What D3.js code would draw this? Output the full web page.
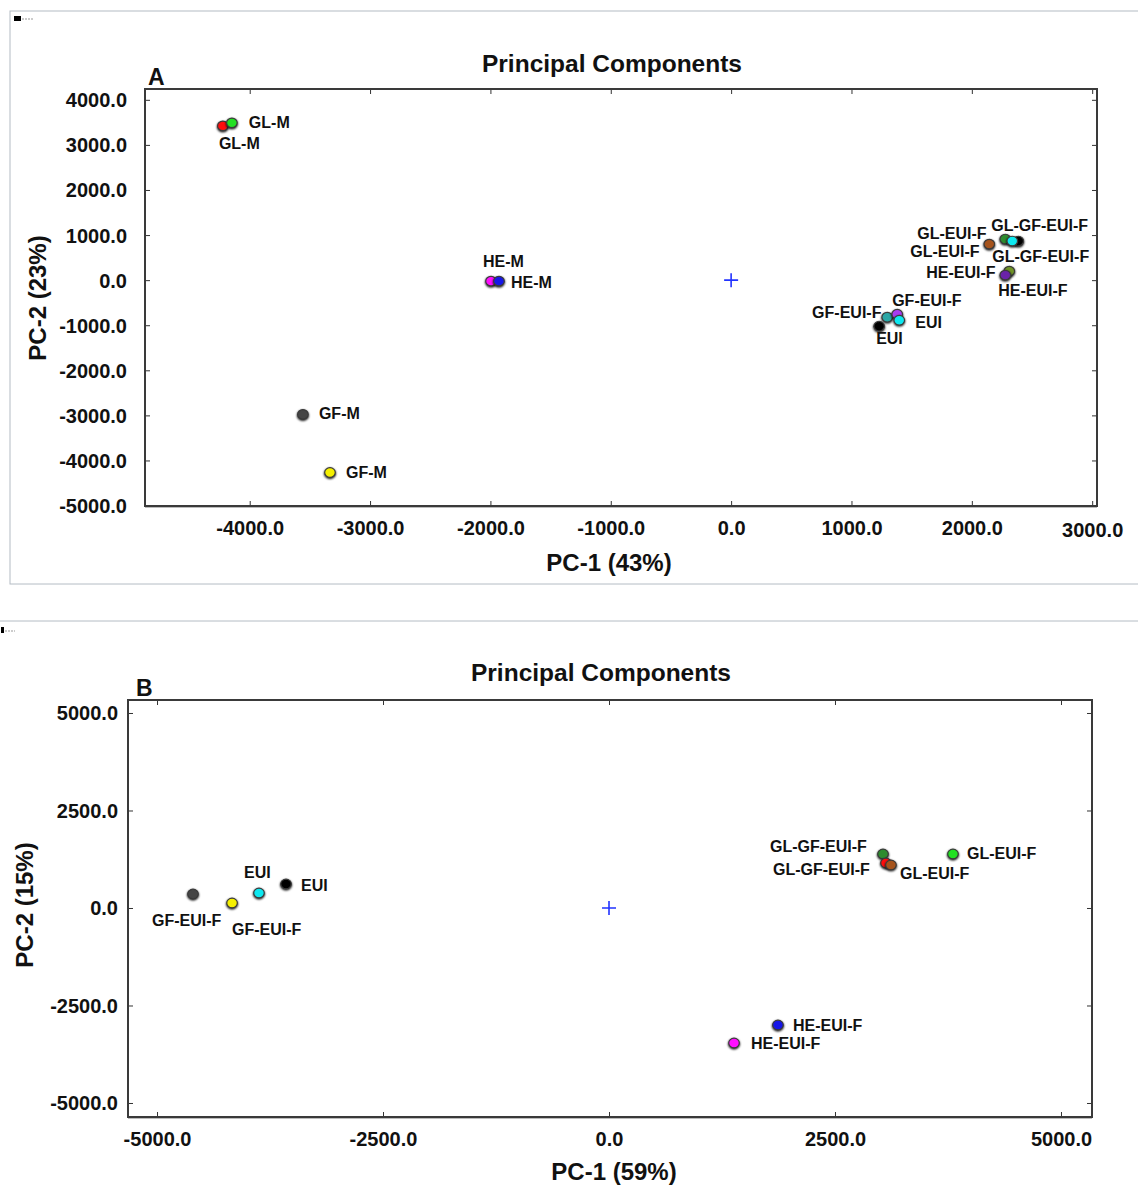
<!DOCTYPE html>
<html>
<head>
<meta charset="utf-8">
<title>Principal Components</title>
<style>
  body { margin: 0; background: #fff; }
  svg { display: block; }
  text { font-family: "Liberation Sans", Arial, sans-serif; font-weight: bold; fill: #111; }
  .tick line { stroke: #333; stroke-width: 1; }
  .domain { stroke: none; }
</style>
</head>
<body>
<div id="chart"></div>
<script src="https://d3js.org/d3.v7.min.js"></script>
<script>
// ---- panel A data ----
var namesA  = ["GL-M", "GL-M", "HE-M", "HE-M", "GF-M", "GF-M",
               "GL-EUI-F", "GL-GF-EUI-F", "GL-GF-EUI-F", "GL-GF-EUI-F", "HE-EUI-F", "HE-EUI-F",
               "GF-EUI-F", "GF-EUI-F", "EUI", "EUI"];
var pc1A    = [-4223, -4148, -1995, -1929, -3558, -3333,
               2145, 2386, 2278, 2336, 2311, 2278,
               1297, 1380, 1397, 1230];
var pc2A    = [3422, 3489, -22, -22, -2978, -4267,
               800, 867, 911, 867, 200, 111,
               -822, -756, -889, -1022];
var colorsA = ["#ff1010", "#22e022", "#ff10ff", "#1818e8", "#444444", "#f5f000",
               "#a5521c", "#050505", "#2e8b2e", "#10e8f0", "#6f9428", "#6a22a8",
               "#2aa6a6", "#a83af0", "#10e8f0", "#050505"];
var labelTextA = ["GL-M", "GL-M", "HE-M", "HE-M", "GF-M", "GF-M",
                  "GL-EUI-F", "GL-GF-EUI-F", "GL-EUI-F", "GL-GF-EUI-F", "HE-EUI-F", "HE-EUI-F",
                  "GF-EUI-F", "GF-EUI-F", "EUI", "EUI"];
var labelX_A = [-4007, -4256, -2062, -1829, -3425, -3200,
                1546, 2161, 1488, 2170, 1621, 2219,
                673, 1338, 1530, 1205];
var labelY_A = [3489, 3044, 422, -44, -2956, -4267,
                1044, 1222, 644, 533, 178, -222,
                -711, -444, -933, -1289];
var xTicksA = [-4000, -3000, -2000, -1000, 0, 1000, 2000, 3000];
var yTicksA = [4000, 3000, 2000, 1000, 0, -1000, -2000, -3000, -4000, -5000];
var xDomainA = [-4870, 3040];
var yDomainA = [-5010, 4240];

// ---- panel B data ----
var namesB  = ["GF-EUI-F", "GF-EUI-F", "EUI", "EUI",
               "GL-GF-EUI-F", "GL-GF-EUI-F", "GL-EUI-F", "GL-EUI-F", "HE-EUI-F", "HE-EUI-F"];
var pc1B    = [-4602, -4170, -3872, -3573, 3031, 3064, 3119, 3805, 1869, 1383];
var pc2B    = [359, 128, 385, 615, 1385, 1154, 1103, 1385, -3000, -3462];
var colorsB = ["#444444", "#f5f000", "#10e8f0", "#050505",
               "#2e8b2e", "#ff1010", "#a5521c", "#22e022", "#1818e8", "#ff10ff"];
var labelTextB = ["EUI", "EUI", "GF-EUI-F", "GF-EUI-F",
                  "GL-GF-EUI-F", "GL-GF-EUI-F", "GL-EUI-F", "GL-EUI-F", "HE-EUI-F", "HE-EUI-F"];
var labelX_B = [-4038, -3407, -5055, -4170, 1781, 1814, 3219, 3960, 2035, 1571];
var labelY_B = [923, 590, -308, -538, 1590, 1000, 897, 1410, -3000, -3462];
var xTicksB = [-5000, -2500, 0, 2500, 5000];
var yTicksB = [5000, 2500, 0, -2500, -5000];
var xDomainB = [-5321, 5343];
var yDomainB = [-5359, 5333];

var svg = d3.select("#chart").append("svg")
    .attr("width", 1138)
    .attr("height", 1186);

// frames
svg.append("rect").attr("x", 10).attr("y", 11).attr("width", 1140).attr("height", 573)
    .attr("fill", "none").attr("stroke", "#b4bcc4").attr("stroke-width", 1);
svg.append("line").attr("x1", 0).attr("x2", 1138).attr("y1", 621).attr("y2", 621)
    .attr("stroke", "#b4bcc4").attr("stroke-width", 1);
svg.append("rect").attr("x", 14).attr("y", 16).attr("width", 7).attr("height", 5).attr("fill", "#000");
svg.append("line").attr("x1", 22).attr("x2", 33).attr("y1", 19).attr("y2", 19)
    .attr("stroke", "#999").attr("stroke-dasharray", "2,1");
svg.append("rect").attr("x", 1).attr("y", 627).attr("width", 3).attr("height", 6).attr("fill", "#000");
svg.append("line").attr("x1", 5).attr("x2", 15).attr("y1", 631).attr("y2", 631)
    .attr("stroke", "#999").attr("stroke-dasharray", "2,1");

var defs = svg.append("defs");
var f = defs.append("filter").attr("id", "shadow").attr("x", "-50%").attr("y", "-50%")
    .attr("width", "200%").attr("height", "200%");
f.append("feGaussianBlur").attr("in", "SourceAlpha").attr("stdDeviation", 1).attr("result", "b");
f.append("feOffset").attr("in", "b").attr("dx", -0.5).attr("dy", 0.5).attr("result", "o");
var fm = f.append("feMerge");
fm.append("feMergeNode").attr("in", "o");
fm.append("feMergeNode").attr("in", "SourceGraphic");

var fmt1 = d3.format(".1f");
function fmt(d) { return fmt1(d).replace("\u2212", "-"); }

function panel(o) {
  var x = d3.scaleLinear().domain(o.xDomain).range([o.left, o.right]);
  var y = d3.scaleLinear().domain(o.yDomain).range([o.bottom, o.top]);
  var g = svg.append("g");

  // axes with inward ticks
  var bx = g.append("g").attr("transform", "translate(0," + o.bottom + ")")
      .call(d3.axisBottom(x).tickValues(o.xTicks).tickSize(-5).tickSizeOuter(0).tickFormat(fmt));
  bx.selectAll("text").attr("y", o.xLabelGap).attr("dy", "0.35em")
      .style("font-size", "20px").style("font-family", null)
      .attr("transform", function(d, i) { return i === o.xTicks.length - 1 ? "translate(0," + o.lastDrop + ")" : null; });
  g.append("g").attr("transform", "translate(0," + o.top + ")")
      .call(d3.axisTop(x).tickValues(o.xTicks).tickSize(-5).tickSizeOuter(0).tickFormat(""));
  var ly = g.append("g").attr("transform", "translate(" + o.left + ",0)")
      .call(d3.axisLeft(y).tickValues(o.yTicks).tickSize(-5).tickSizeOuter(0).tickFormat(fmt));
  ly.selectAll("text").attr("x", -o.yLabelGap).attr("dy", "0.35em")
      .style("font-size", "20px").style("font-family", null);
  g.append("g").attr("transform", "translate(" + o.right + ",0)")
      .call(d3.axisRight(y).tickValues(o.yTicks).tickSize(-5).tickSizeOuter(0).tickFormat(""));
  g.selectAll(".tick text").attr("fill", "#111");

  // plot box
  g.append("rect").attr("x", o.left).attr("y", o.top)
      .attr("width", o.right - o.left).attr("height", o.bottom - o.top)
      .attr("fill", "none").attr("stroke", "#3a3a3a").attr("stroke-width", 2);
  g.append("line").attr("x1", o.left).attr("x2", o.right)
      .attr("y1", o.bottom + 1.5).attr("y2", o.bottom + 1.5)
      .attr("stroke", "#bbb").attr("stroke-width", 1);

  // origin cross
  var cx = x(0), cy = y(0);
  g.append("path").attr("d", "M" + (cx - 7) + "," + cy + "H" + (cx + 7) + "M" + cx + "," + (cy - 7) + "V" + (cy + 7))
      .attr("stroke", "#2233ff").attr("stroke-width", 1.6).attr("fill", "none");

  // points
  var pts = o.pc1.map(function(v, i) { return {x: v, y: o.pc2[i], c: o.colors[i], n: o.names[i]}; });
  g.selectAll(".pt").data(pts).enter().append("ellipse")
      .attr("class", "pt")
      .attr("cx", function(d) { return x(d.x); })
      .attr("cy", function(d) { return y(d.y); })
      .attr("rx", 5.3).attr("ry", 4.8)
      .attr("fill", function(d) { return d.c; })
      .attr("stroke", "#3a3a3a").attr("stroke-width", 1.2)
      .attr("filter", "url(#shadow)");

  // labels
  var labs = o.labelText.map(function(t, i) { return {t: t, x: o.labelX[i], y: o.labelY[i]}; });
  g.selectAll(".lab").data(labs).enter().append("text")
      .attr("class", "lab")
      .attr("x", function(d) { return x(d.x); })
      .attr("y", function(d) { return y(d.y); })
      .attr("dy", "0.35em")
      .style("font-size", "16px")
      .text(function(d) { return d.t; });

  // titles
  g.append("text").attr("x", o.titleX).attr("y", o.titleY).attr("dy", "0.35em")
      .attr("text-anchor", "middle").style("font-size", "24.5px").text("Principal Components");
  g.append("text").attr("x", o.letterX).attr("y", o.letterY).attr("dy", "0.35em")
      .style("font-size", "23px").text(o.letter);
  g.append("text").attr("x", o.xTitleX).attr("y", o.xTitleY).attr("dy", "0.35em")
      .attr("text-anchor", "middle").style("font-size", "24px").text(o.xTitle);
  g.append("text").attr("transform", "translate(" + o.yTitleX + "," + o.yTitleY + ") rotate(-90)")
      .attr("dy", "0.35em").attr("text-anchor", "middle").style("font-size", "24px").text(o.yTitle);
}

panel({
  left: 145, right: 1097, top: 89, bottom: 506,
  xDomain: xDomainA, yDomain: yDomainA, xTicks: xTicksA, yTicks: yTicksA,
  xLabelGap: 22, yLabelGap: 18, lastDrop: 2,
  pc1: pc1A, pc2: pc2A, colors: colorsA, names: namesA,
  labelText: labelTextA, labelX: labelX_A, labelY: labelY_A,
  titleX: 612, titleY: 63, letter: "A", letterX: 148, letterY: 77,
  xTitle: "PC-1 (43%)", xTitleX: 609, xTitleY: 563,
  yTitle: "PC-2 (23%)", yTitleX: 38, yTitleY: 298
});

panel({
  left: 128, right: 1092, top: 700, bottom: 1117,
  xDomain: xDomainB, yDomain: yDomainB, xTicks: xTicksB, yTicks: yTicksB,
  xLabelGap: 22, yLabelGap: 10, lastDrop: 0,
  pc1: pc1B, pc2: pc2B, colors: colorsB, names: namesB,
  labelText: labelTextB, labelX: labelX_B, labelY: labelY_B,
  titleX: 601, titleY: 672, letter: "B", letterX: 136, letterY: 688,
  xTitle: "PC-1 (59%)", xTitleX: 614, xTitleY: 1172,
  yTitle: "PC-2 (15%)", yTitleX: 25, yTitleY: 905
});
</script>
</body>
</html>
